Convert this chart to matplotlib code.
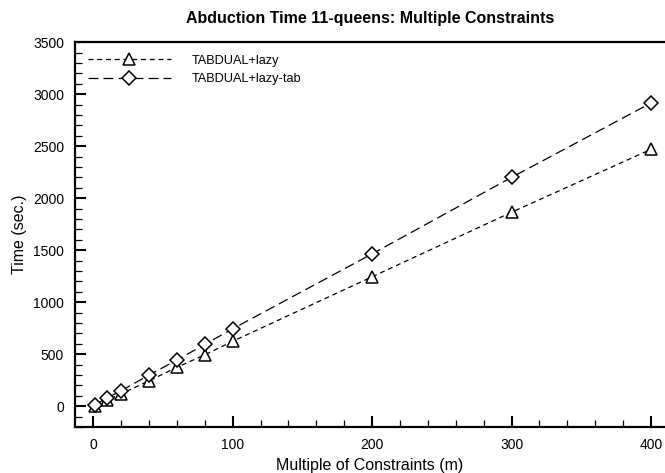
import matplotlib
matplotlib.use("Agg")
import matplotlib.pyplot as plt
from matplotlib.ticker import MultipleLocator

plt.rcParams['font.family'] = ['Liberation Sans', 'DejaVu Sans']

m = [1, 10, 20, 40, 60, 80, 100, 200, 300, 400]
lazy = [0, 60, 120, 245, 375, 495, 625, 1245, 1865, 2470]
lazy_tab = [15, 80, 150, 300, 445, 595, 745, 1465, 2200, 2915]

fig = plt.figure(figsize=(6.65, 4.73), dpi=100)
ax = fig.add_axes([0.113, 0.097, 0.887, 0.814])

ax.plot(m, lazy, linestyle=(0, (4, 3)), color='black', linewidth=0.9,
        marker='^', markersize=9, markerfacecolor='white', markeredgecolor='black',
        markeredgewidth=1.1, label='TABDUAL+lazy')
ax.plot(m, lazy_tab, linestyle=(0, (8, 4)), color='black', linewidth=0.9,
        marker='D', markersize=7, markerfacecolor='white', markeredgecolor='black',
        markeredgewidth=1.1, label='TABDUAL+lazy-tab')

ax.set_xlim(-13, 410)
ax.set_ylim(-200, 3500)
ax.xaxis.set_major_locator(MultipleLocator(100))
ax.xaxis.set_minor_locator(MultipleLocator(20))
ax.yaxis.set_major_locator(MultipleLocator(500))
ax.yaxis.set_minor_locator(MultipleLocator(100))
ax.tick_params(which='major', direction='in', length=8, width=1.5, labelsize=10, pad=8)
ax.tick_params(which='minor', direction='in', length=5, width=0.9)
ax.tick_params(top=False, right=False, which='both')

ax.spines['right'].set_visible(False)
for s in ['left', 'bottom', 'top']:
    ax.spines[s].set_linewidth(1.6)

ax.set_xlabel('Multiple of Constraints (m)', fontsize=11.5, labelpad=4)
ax.set_ylabel('Time (sec.)', fontsize=11.5, labelpad=4)
ax.set_title('Abduction Time 11-queens: Multiple Constraints', fontsize=11.5,
             fontweight='bold', pad=14)

ax.legend(loc='upper left', frameon=False, handlelength=6.5, fontsize=9.2,
          borderaxespad=0.6, labelspacing=0.5, handletextpad=1.6)

fig.savefig('out.png', dpi=100)
